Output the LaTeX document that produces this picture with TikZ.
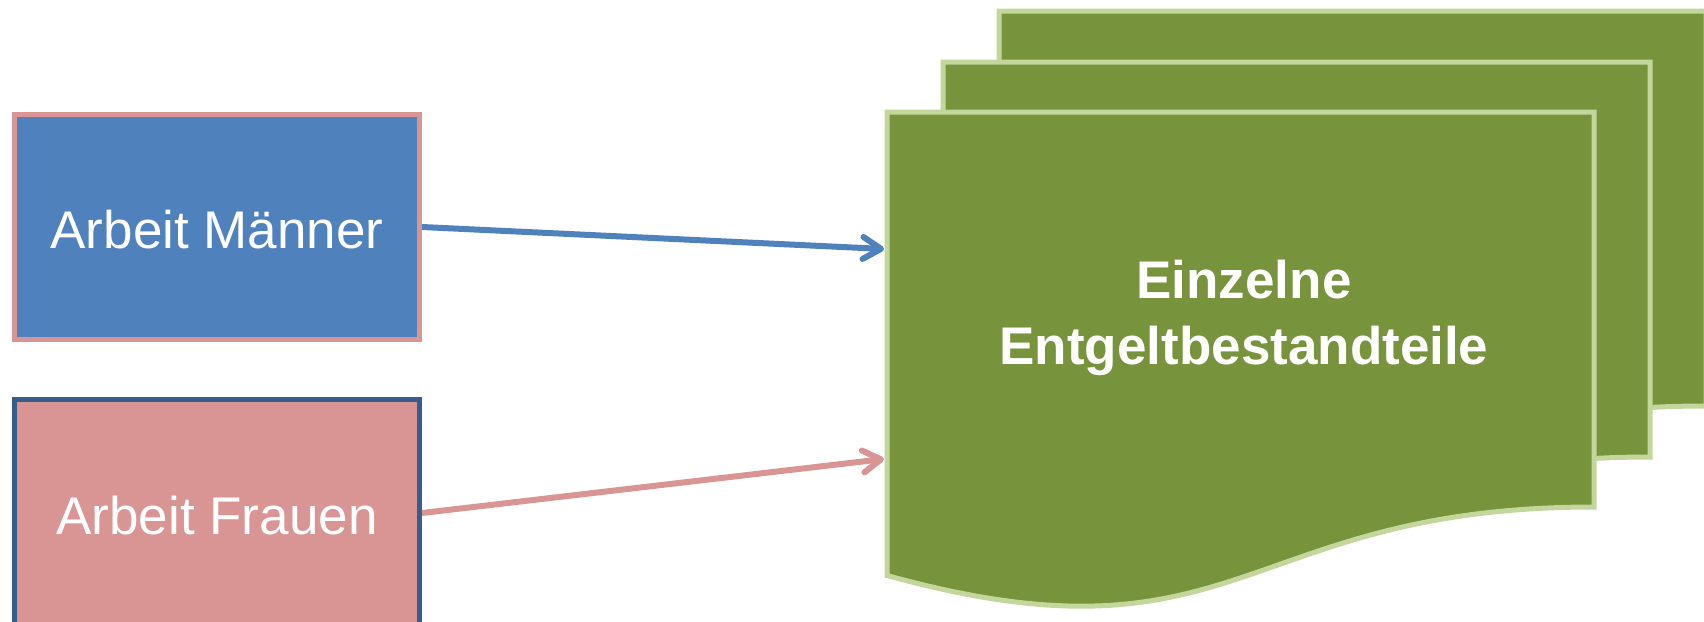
\documentclass[tikz,border=0pt]{standalone}
\usepackage{fontspec}
\setmainfont{Liberation Sans}
\usetikzlibrary{arrows.meta}
\definecolor{mblue}{HTML}{4F81BD}
\definecolor{fpink}{HTML}{D99594}
\definecolor{dblue}{HTML}{385D8A}
\definecolor{dgreen}{HTML}{77933C}
\definecolor{lgreen}{HTML}{C3D69B}
\begin{document}
\begin{tikzpicture}[x=1pt,y=-1pt,
  box/.style={rectangle, line width=5pt, minimum width=405pt, inner sep=0pt, text=white,
    text height=42pt, text depth=0pt, font=\fontsize{53}{64}\selectfont},
  docshape/.style={fill=dgreen, draw=lgreen, line width=5pt},
  link/.style={line width=6pt, -{Straight Barb[length=18pt,width=22pt,round]}}]
\path[use as bounding box] (0,0) rectangle (1704,621);
\clip (0,0) rectangle (1704,621);
\foreach \X/\Y in {999/11, 943/62, 887/112} {
  \draw[docshape] (\X,\Y) -- (\X+707,\Y) -- (\X+707,\Y+395)
    .. controls (\X+353.75,\Y+395) and (\X+353.75,\Y+561) .. (\X,\Y+463.5) -- cycle;
}
\node[box, fill=mblue, draw=fpink, minimum height=225pt] (men) at (217,227) {Arbeit Männer};
\node[box, fill=fpink, draw=dblue, minimum height=227pt] (women) at (217,513) {Arbeit Frauen};
\node[text=white, font=\bfseries\fontsize{53}{66}\selectfont, align=center] (doctext) at (1244,318) {Einzelne\\Entgeltbestandteile};
\coordinate (inA) at (884,249);
\coordinate (inB) at (884,459);
\draw[link, mblue] (men.east) -- (inA);
\draw[link, fpink] (women.east) -- (inB);
\end{tikzpicture}
\end{document}
